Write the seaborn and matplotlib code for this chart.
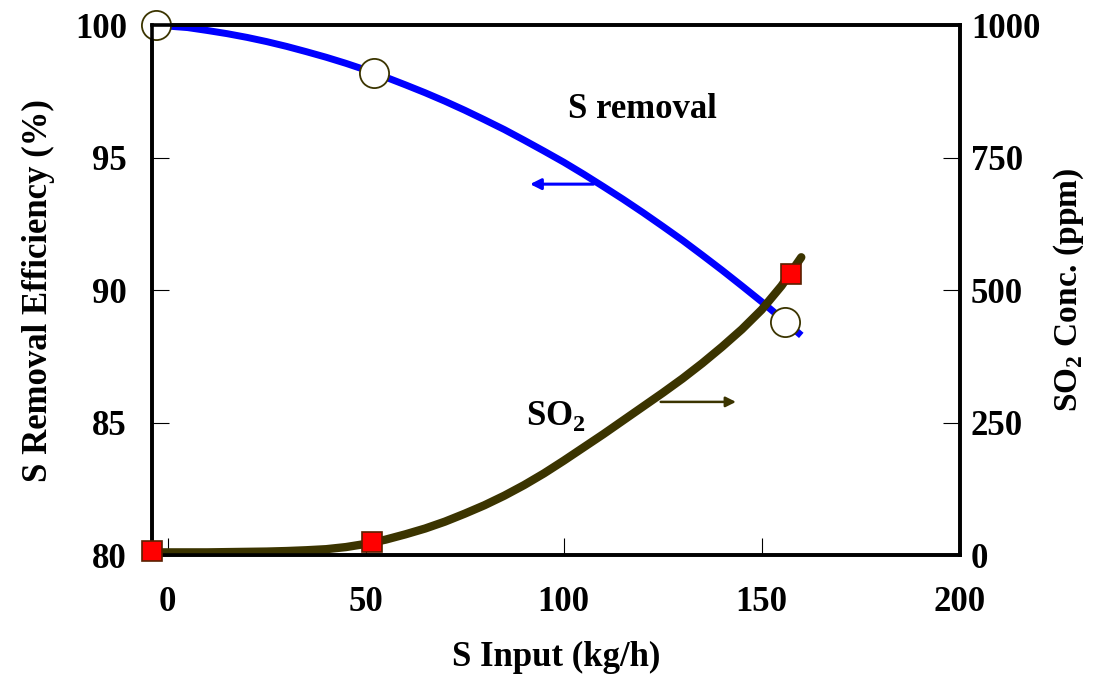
"""S removal efficiency and SO2 concentration vs. S input."""
import matplotlib
matplotlib.use("Agg")
import matplotlib.pyplot as plt
import pandas as pd
import seaborn as sns

# smooth fitted curves
curve_x_removal = [-3, 5, 10, 15, 20, 25, 30, 35, 40, 45, 50, 55, 60, 65, 70, 75, 80,
                   85, 90, 95, 100, 105, 110, 115, 120, 125, 130, 135, 140, 145, 150,
                   155, 160]
curve_removal = [100.0, 99.91, 99.80, 99.68, 99.54, 99.38, 99.20, 99.00, 98.79, 98.56,
                 98.31, 98.04, 97.75, 97.45, 97.13, 96.79, 96.43, 96.06, 95.66, 95.25,
                 94.83, 94.38, 93.91, 93.43, 92.93, 92.41, 91.88, 91.32, 90.75, 90.16,
                 89.56, 88.93, 88.29]
curve_x_so2 = [-4, 0, 5, 10, 15, 20, 25, 30, 35, 40, 45, 50, 55, 60, 65, 70, 75, 80,
               85, 90, 95, 100, 105, 110, 115, 120, 125, 130, 135, 140, 145, 150,
               155, 160]
curve_so2 = [5, 5, 5, 5, 5.5, 6, 6.5, 7.5, 9, 11, 15, 21, 29, 39, 50, 63, 78, 94,
             112, 132, 154, 178, 203, 228, 254, 280, 306, 333, 362, 393, 426, 463,
             508, 562]

# measured points
meas_x_removal = [-3, 52, 156]
meas_removal = [100.0, 98.2, 88.8]
meas_x_so2 = [-4, 51.5, 157.5]
meas_so2 = [8, 24, 531]

OLIVE = "#3b3400"

sns.set_theme(style="ticks")
plt.rcParams["font.family"] = ["Liberation Serif", "DejaVu Serif"]
plt.rcParams["font.weight"] = "bold"
plt.rcParams["axes.labelweight"] = "bold"
for key in ("text.color", "axes.labelcolor", "xtick.color", "ytick.color"):
    plt.rcParams[key] = "black"

fig = plt.figure(figsize=(10.93, 6.81), dpi=100)
ax = fig.add_axes([0.139, 0.185, 0.739, 0.778])
ax2 = ax.twinx()

rem_line = pd.DataFrame({"x": curve_x_removal, "y": curve_removal})
so2_line = pd.DataFrame({"x": curve_x_so2, "y": curve_so2})

sns.lineplot(data=rem_line, x="x", y="y", ax=ax, color="#0000ff", linewidth=5,
             estimator=None, solid_capstyle="butt", solid_joinstyle="round")
ax.plot(meas_x_removal, meas_removal, linestyle="none", marker="o", markersize=21,
        markerfacecolor="white", markeredgecolor=OLIVE, markeredgewidth=1.3,
        clip_on=False, zorder=5)

sns.lineplot(data=so2_line, x="x", y="y", ax=ax2, color=OLIVE, linewidth=6,
             estimator=None, solid_capstyle="round", solid_joinstyle="round")
ax2.plot(meas_x_so2, meas_so2, linestyle="none", marker="s", markersize=15,
         markerfacecolor="#ff0000", markeredgecolor="#5a2000", markeredgewidth=1.2,
         clip_on=False, zorder=5)

ax.set_xlim(-4, 200)
ax.set_ylim(80, 100)
ax2.set_ylim(0, 1000)
ax.set_xticks([0, 50, 100, 150, 200])
ax.set_yticks([80, 85, 90, 95, 100])
ax2.set_yticks([0, 250, 500, 750, 1000])

for a in (ax, ax2):
    for sp in a.spines.values():
        sp.set_linewidth(2.6)
        sp.set_color("black")
        sp.set_visible(True)
ax.tick_params(axis="both", direction="in", length=12, width=0.8, colors="black",
               labelsize=25)
ax.tick_params(axis="y", pad=18)
ax.tick_params(axis="x", pad=22)
ax2.tick_params(axis="y", direction="in", length=12, width=0.8, colors="black",
                labelsize=25, pad=8)

ax.set_xlabel("S Input (kg/h)", fontsize=25, labelpad=16)
ax.set_ylabel("S Removal Efficiency (%)", fontsize=25, labelpad=14)
ax2.set_ylabel(r"SO$_\mathregular{2}$ Conc. (ppm)", fontsize=24, labelpad=8)

ax.text(120, 96.8, "S removal", fontsize=25, fontweight="bold", ha="center", va="center")
ax.annotate("", xy=(91.5, 94.0), xytext=(107.5, 94.0),
            arrowprops=dict(arrowstyle="-|>", color="#0000ff", lw=2.2, mutation_scale=16,
                            shrinkA=0, shrinkB=0))
ax2.text(98, 262, r"SO$_\mathregular{2}$", fontsize=25, fontweight="bold",
         ha="center", va="center")
ax2.annotate("", xy=(143.5, 289), xytext=(124.5, 289),
             arrowprops=dict(arrowstyle="-|>", color=OLIVE, lw=1.8, mutation_scale=15,
                             shrinkA=0, shrinkB=0))

fig.savefig("out.png", dpi=100)
plt.close(fig)
